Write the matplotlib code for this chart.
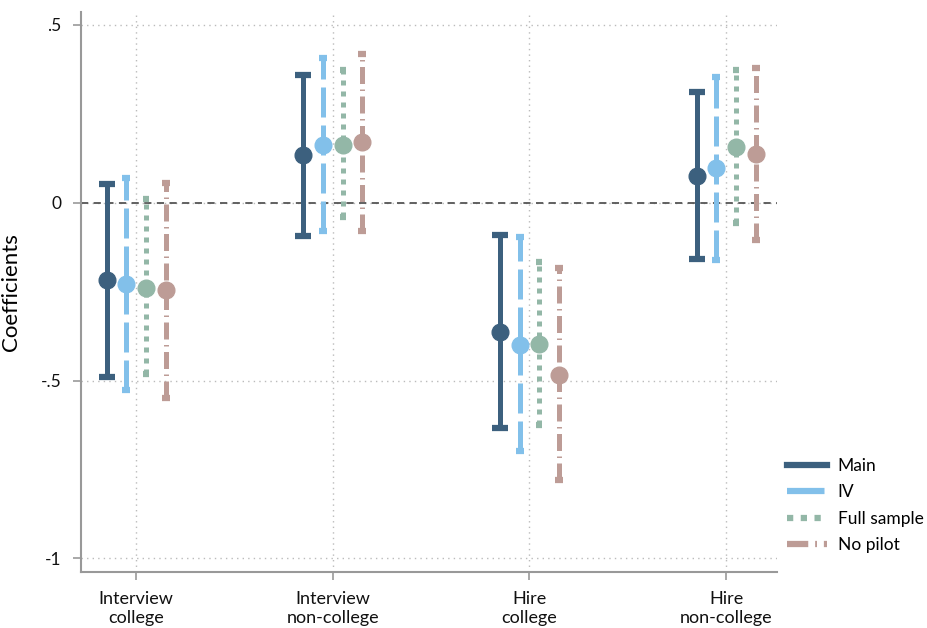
import matplotlib.pyplot as plt
from matplotlib.lines import Line2D

plt.rcParams['font.family'] = ['Lato', 'DejaVu Sans']

# outcomes on the x axis
groups = ["Interview\ncollege", "Interview\nnon-college", "Hire\ncollege", "Hire\nnon-college"]
series = ["Main", "IV", "Full sample", "No pilot"]

# point estimates and 95% CI bounds, one list per specification
main_b  = [-0.217, 0.135, -0.363, 0.076]
main_lo = [-0.490, -0.093, -0.633, -0.158]
main_hi = [0.053, 0.360, -0.090, 0.312]

iv_b  = [-0.228, 0.163, -0.400, 0.098]
iv_lo = [-0.526, -0.080, -0.697, -0.160]
iv_hi = [0.070, 0.408, -0.096, 0.354]

full_b  = [-0.239, 0.163, -0.397, 0.158]
full_lo = [-0.480, -0.040, -0.625, -0.056]
full_hi = [0.010, 0.374, -0.167, 0.374]

nopilot_b  = [-0.245, 0.172, -0.484, 0.138]
nopilot_lo = [-0.550, -0.080, -0.780, -0.104]
nopilot_hi = [0.056, 0.419, -0.183, 0.380]

estimates = [(main_b, main_lo, main_hi), (iv_b, iv_lo, iv_hi),
             (full_b, full_lo, full_hi), (nopilot_b, nopilot_lo, nopilot_hi)]

colors = ['#3c607e', '#82c0ea', '#93b7a7', '#bd9c96']
styles = ['-', (0, (6.0, 1.6)), (0, (1.0, 1.2)), (0, (3.4, 1.1, 0.3, 1.1))]
offsets = [-0.15, -0.05, 0.05, 0.15]
capw = [11, 6, 5, 6]

fig = plt.figure(figsize=(9.27, 6.28), dpi=100)
ax = fig.add_axes([0.0874, 0.0892, 0.751, 0.892])

ax.axhline(0, color='#555555', lw=1.3, ls=(0, (4, 3)), zorder=1)

xs = list(range(1, len(groups) + 1))
for k, (b, lo, hi) in enumerate(estimates):
    for i, x in enumerate(xs):
        xp = x + offsets[k]
        ax.plot([xp, xp], [lo[i], hi[i]], color=colors[k], lw=3.6, ls=styles[k],
                dash_capstyle='butt', solid_capstyle='butt', zorder=3)
        ax.plot([xp, xp], [lo[i], hi[i]], ls='none', marker='_', ms=capw[k],
                mew=4.5, color=colors[k], zorder=3)
        ax.plot(xp, b[i], marker='o', ms=12, color=colors[k], mec=colors[k], zorder=4)

ax.set_xlim(0.72, 4.26)
ax.set_ylim(-1.038, 0.537)
ax.set_xticks(xs)
ax.set_xticklabels(groups, fontsize=13, color='#111111', linespacing=1.2)
ax.set_yticks([0.5, 0, -0.5, -1])
ax.set_yticklabels(['.5', '0', '-.5', '-1'], fontsize=12.5, color='#111111')
ax.set_ylabel("Coefficients", fontsize=16, labelpad=14)

ax.grid(True, ls=(0, (1, 3)), color='#bbbbbb', lw=1)
ax.set_axisbelow(True)
for side in ['top', 'right']:
    ax.spines[side].set_visible(False)
for side in ['left', 'bottom']:
    ax.spines[side].set_color('#999999')
    ax.spines[side].set_linewidth(1.5)
ax.tick_params(colors='#999999', length=6, width=1.2, labelcolor='#111111', pad=8)

handles = [Line2D([0], [0], color=colors[k], lw=4.5, ls=styles[k], dash_capstyle='butt')
           for k in range(4)]
fig.legend(handles, series, loc='lower left', bbox_to_anchor=(0.842, 0.108),
           frameon=False, fontsize=12.5, handlelength=2.3, handletextpad=0.6,
           labelspacing=0.6, borderaxespad=0)

fig.savefig('out.png', dpi=100)
